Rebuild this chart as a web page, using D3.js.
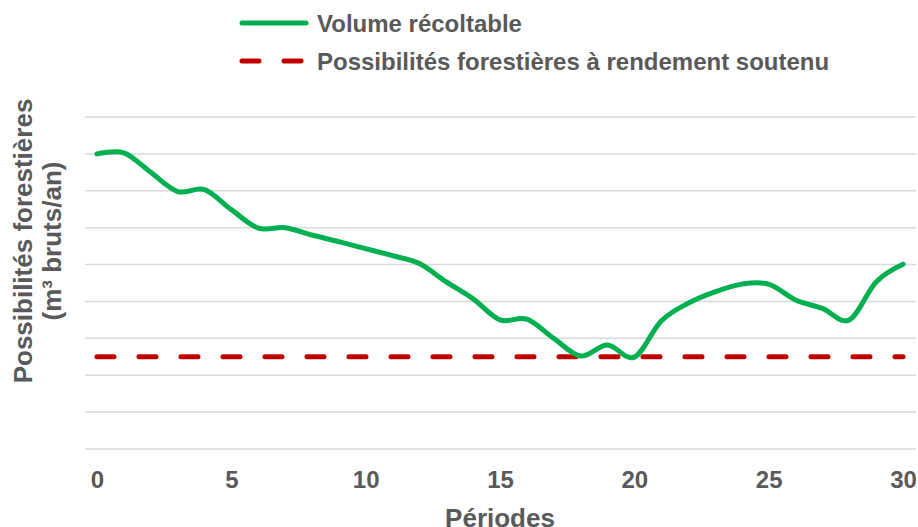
<!DOCTYPE html>
<html><head><meta charset="utf-8">
<script src="https://cdn.jsdelivr.net/npm/d3@7"></script>
<style>body{margin:0;background:#fff}svg{display:block}text{font-family:"Liberation Sans",Arial,sans-serif;font-weight:bold;fill:#595959}</style>
</head><body>
<script>
const periods = d3.range(0, 31);
const volumeRecoltable = [8.0, 8.03, 7.5, 6.98, 7.03, 6.49, 5.99, 6.0, 5.8, 5.62, 5.43, 5.24, 5.03, 4.53, 4.07, 3.5, 3.52, 3.0, 2.52, 2.82, 2.49, 3.47, 3.95, 4.26, 4.47, 4.47, 4.04, 3.81, 3.5, 4.53, 5.01];
const rendementSoutenu = [2.5, 2.5];
const rendementPeriods = [0, 30];
const xTicks = [0, 5, 10, 15, 20, 25, 30];
const yGrid = [0, 1, 2, 3, 4, 5, 6, 7, 8, 9];
const seriesNames = ["Volume récoltable", "Possibilités forestières à rendement soutenu"];
const xTitle = "Périodes";
const yTitle = ["Possibilités forestières", "(m³ bruts/an)"];

const W = 918, H = 527;
const svg = d3.select("body").append("svg").attr("width", W).attr("height", H);
const x = d3.scaleLinear().domain([0, 30]).range([97, 903]);
const y = d3.scaleLinear().domain([0, 9]).range([449, 117]);

// gridlines
svg.append("g").selectAll("line").data(yGrid).join("line")
  .attr("x1", 85).attr("x2", 916)
  .attr("y1", d => y(d)).attr("y2", d => y(d))
  .attr("stroke", "#d9d9d9").attr("stroke-width", 1.5);

// x axis labels
const xAxis = d3.axisBottom(x).tickValues(xTicks).tickSize(0).tickPadding(0);
const gx = svg.append("g").attr("transform", "translate(0,471)").call(xAxis);
gx.select(".domain").remove();
gx.selectAll("text").attr("font-size", 24).attr("fill", "#595959")
  .attr("font-family", '"Liberation Sans",Arial,sans-serif').attr("font-weight", "bold")
  .attr("dy", "0.72em");

// axis titles
svg.append("text").attr("x", 500).attr("y", 526.5).attr("text-anchor", "middle")
  .attr("font-size", 26).text(xTitle);
const yt = svg.append("g").attr("transform", "translate(0,241) rotate(-90)");
yt.append("text").attr("x", 0).attr("y", 32).attr("text-anchor", "middle").attr("font-size", 26).text(yTitle[0]);
yt.append("text").attr("x", 0).attr("y", 61).attr("text-anchor", "middle").attr("font-size", 26).text(yTitle[1]);

// red dashed line
const line = d3.line().x(d => x(d[0])).y(d => y(d[1]));
svg.append("path").datum(rendementPeriods.map((p, i) => [p, rendementSoutenu[i]]))
  .attr("d", line).attr("fill", "none").attr("stroke", "#c00000")
  .attr("stroke-width", 5).attr("stroke-linecap", "round").attr("stroke-dasharray", "17,25");

// green curve
const curveLine = d3.line().x(d => x(d[0])).y(d => y(d[1])).curve(d3.curveCatmullRom.alpha(0));
svg.append("path").datum(periods.map((p, i) => [p, volumeRecoltable[i]]))
  .attr("d", curveLine).attr("fill", "none").attr("stroke", "#00b050")
  .attr("stroke-width", 5).attr("stroke-linecap", "round").attr("stroke-linejoin", "round");

// legend
const lg = svg.append("g");
lg.append("line").attr("x1", 242).attr("x2", 306).attr("y1", 23).attr("y2", 23)
  .attr("stroke", "#00b050").attr("stroke-width", 5).attr("stroke-linecap", "round");
lg.append("line").attr("x1", 242).attr("x2", 306).attr("y1", 61).attr("y2", 61)
  .attr("stroke", "#c00000").attr("stroke-width", 5).attr("stroke-linecap", "round").attr("stroke-dasharray", "17,25");
lg.append("text").attr("x", 317).attr("y", 32).attr("font-size", 24).text(seriesNames[0]);
lg.append("text").attr("x", 317).attr("y", 70).attr("font-size", 24).text(seriesNames[1]);
</script>
</body></html>
